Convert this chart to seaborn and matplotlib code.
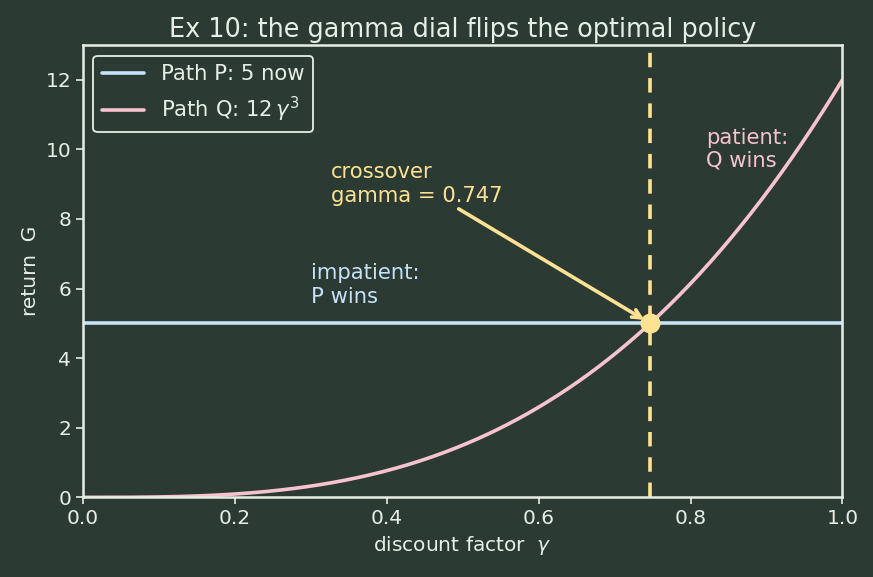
import numpy as np
import pandas as pd
import matplotlib
matplotlib.use("Agg")
import matplotlib.pyplot as plt
import seaborn as sns

# values shown on the chart
p_value = 5.0          # Path P: 5 now
q_coef = 12.0          # Path Q: 12 gamma^3
q_power = 3
gamma_cross = 0.747
gamma_grid = np.linspace(0.0, 1.0, 300)

bg = "#2b3a33"
fg = "#e6efe6"
c_p = "#c6e2f7"
c_q = "#f7c3cf"
c_x = "#fde294"

sns.set_theme(style="dark", rc={
    "figure.facecolor": bg, "axes.facecolor": bg,
    "axes.edgecolor": fg, "axes.labelcolor": fg,
    "xtick.color": fg, "ytick.color": fg, "text.color": fg,
    "axes.grid": False,
})
plt.rcParams["font.family"] = ["DejaVu Sans"]

df = pd.DataFrame({
    "gamma": gamma_grid,
    "P": np.full_like(gamma_grid, p_value),
    "Q": q_coef * gamma_grid ** q_power,
})

fig, ax = plt.subplots(figsize=(8.73, 5.77), dpi=100)
fig.subplots_adjust(left=0.095, right=0.965, top=0.922, bottom=0.138)

sns.lineplot(data=df, x="gamma", y="P", ax=ax, color=c_p, lw=2.6,
             label="Path P: 5 now")
sns.lineplot(data=df, x="gamma", y="Q", ax=ax, color=c_q, lw=2.6,
             label="Path Q: $12\\,\\gamma^3$")
ax.axvline(gamma_cross, color=c_x, ls="--", lw=2.6, dashes=(4, 3))
ax.scatter([gamma_cross], [p_value], s=180, color=c_x, zorder=5)

ax.annotate("crossover\ngamma = 0.747", xy=(gamma_cross, p_value),
            xytext=(0.327, 8.5), color=c_x, fontsize=15.2,
            arrowprops=dict(arrowstyle="->", color=c_x, lw=2.6,
                            shrinkA=0, shrinkB=5))
ax.text(0.30, 5.6, "impatient:\nP wins", color=c_p, fontsize=15.2)
ax.text(0.82, 9.5, "patient:\nQ wins", color=c_q, fontsize=15.2)

ax.set_xlim(0, 1)
ax.set_ylim(0, 13)
ax.set_xticks([0, 0.2, 0.4, 0.6, 0.8, 1.0])
ax.set_yticks([0, 2, 4, 6, 8, 10, 12])
ax.tick_params(labelsize=14.5, length=5, width=1.2, bottom=True, left=True)
ax.set_xlabel("discount factor  $\\gamma$", fontsize=14.5)
ax.set_ylabel("return  G", fontsize=14.5)
ax.set_title("Ex 10: the gamma dial flips the optimal policy", fontsize=18.4, color=fg)
for s in ax.spines.values():
    s.set_linewidth(1.8)
    s.set_color(fg)

leg = ax.legend(loc="upper left", fontsize=15.2, facecolor=bg, edgecolor=fg,
                framealpha=1, handlelength=2.0)
for t in leg.get_texts():
    t.set_color(fg)
leg.get_frame().set_linewidth(1.3)

fig.savefig("out.png", dpi=100, facecolor=bg)
